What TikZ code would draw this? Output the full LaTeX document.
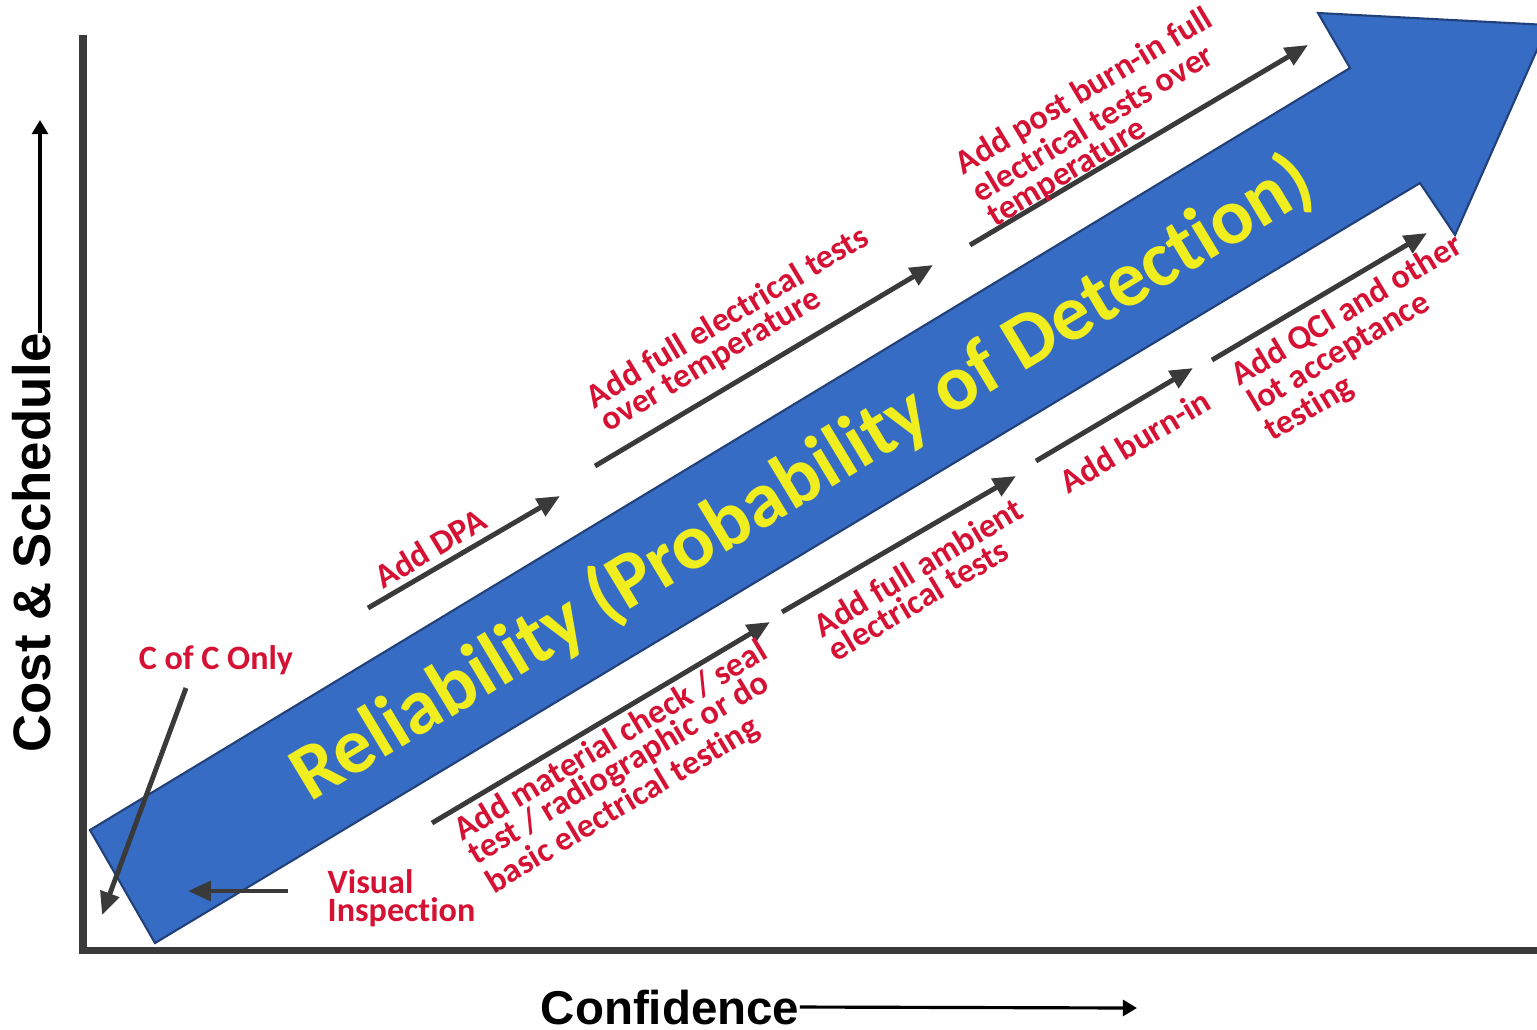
\documentclass[tikz,border=0pt]{standalone}
\usepackage{fontspec}
\setmainfont{Carlito}[Ligatures=NoCommon]
\newfontfamily\axisfont{Liberation Sans}
\usepackage{tikz}
\usetikzlibrary{arrows.meta, calc}
\definecolor{shaftblue}{RGB}{54,108,196}
\definecolor{shaftedge}{RGB}{34,64,122}
\definecolor{lblred}{RGB}{214,18,52}
\definecolor{lblyellow}{RGB}{240,238,30}
\definecolor{axisgray}{RGB}{58,58,58}

\begin{document}
\begin{tikzpicture}[x=0.01cm, y=-0.01cm,
  steparrow/.style={draw=axisgray, line width=1.4pt, -{Triangle[length=6.5pt,width=5.5pt]}},
  steplabel/.style={text=lblred, font=\bfseries\fontsize{9.7}{7.9}\selectfont, align=left, rotate=31, inner sep=0pt},
  axislabel/.style={font=\axisfont\bfseries, inner sep=0pt},
  axisarrow/.style={draw=black, line width=0.9pt, -{Triangle[length=4pt,width=4.5pt]}}]
\useasboundingbox (0,0) rectangle (1537,1029);
\fill[white] (0,0) rectangle (1537,1029);
\coordinate (ytop) at (83,35);
\coordinate (xend) at (1537,950);
\draw[axisgray, line width=2pt] (ytop) |- (xend);
\filldraw[fill=shaftblue, draw=shaftedge, line width=0.6pt]
  (90,830) -- (1350,68) -- (1318,13) -- (1548,25) -- (1455,235) -- (1420,183) -- (155,943) -- cycle;
\node[text=lblyellow, font=\bfseries\fontsize{22.5}{27}\selectfont, rotate=31.1, inner sep=0pt]
  (reliab) at (802,479) {Reliability (Probability of Detection)};
\foreach \n/\sx/\sy/\ex/\ey in {dpa/368/608/560/496, fullel/595/466/933/265, postbi/970/245/1308/45,
  matl/432/823/770/622, ambient/782/612/1016/476, burnin/1036/461/1193/368, qci/1212/360/1427/233,
  cofc/186/688/102/915, visual/288/891/188/891}
  {\coordinate (\n S) at (\sx,\sy);
   \coordinate (\n E) at (\ex,\ey);
   \draw[steparrow] (\n S) -- (\n E);}
\path
(430,548) node[steplabel] (dpalbl) {Add DPA}
(735,330) node[steplabel] (fullellbl) {Add full electrical tests\\over temperature}
(1100,118) node[steplabel] (postbilbl) {Add post burn-in full\\electrical tests over\\temperature}
(627,768) node[steplabel] (matllbl) {Add material check / seal\\test / radiographic or do\\basic electrical testing}
(925,579) node[steplabel] (ambientlbl) {Add full ambient\\electrical tests}
(1135,441) node[steplabel] (burninlbl) {Add burn-in}
(1364,339) node[steplabel] (qcilbl) {Add QCI and other\\lot acceptance\\testing};
\path
(216,660) node[steplabel, rotate=-31] (cofclbl) {C of C Only}
(327,898) node[steplabel, rotate=-31, anchor=west] (visuallbl) {Visual\\Inspection};
\node[axislabel, font=\axisfont\bfseries\fontsize{15}{18}\selectfont, rotate=90] (costlbl) at (32,543) {Cost \& Schedule};
\coordinate (costE) at (40,120);
\draw[axisarrow] (costlbl.east) ++(8,0) coordinate (costS) (costS) -- (costE);
\node[axislabel, font=\axisfont\bfseries\fontsize{13.5}{16}\selectfont] (conflbl) at (670,1007) {Confidence};
\coordinate (confE) at (1137,1008);
\draw[axisarrow] (conflbl.east) -- (confE);
\end{tikzpicture}
\end{document}
